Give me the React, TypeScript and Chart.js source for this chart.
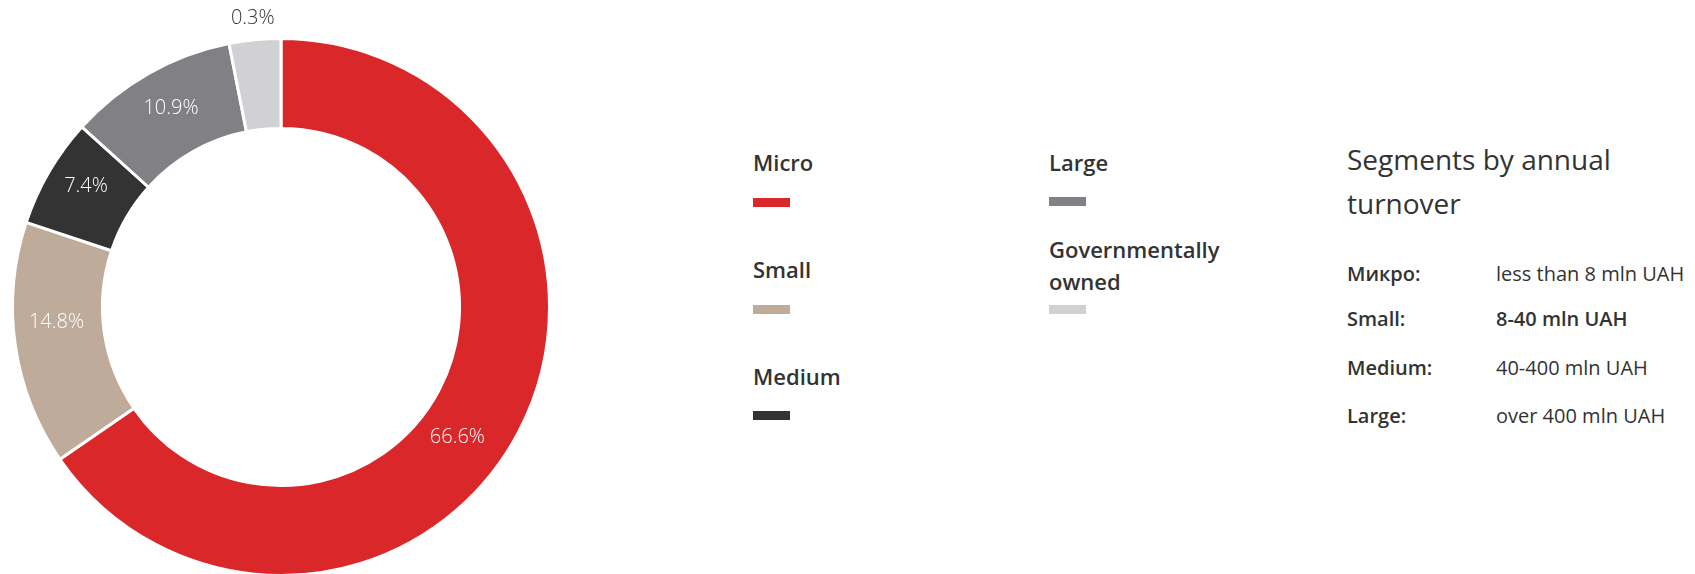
import React, { useEffect, useRef } from "react";
import { Chart, registerables } from "chart.js";

Chart.register(...registerables);

// ---- data ----
const segments = ["Micro", "Small", "Medium", "Large", "Governmentally owned"];
const sliceValues = [65.4, 14.7, 6.6, 10.2, 3.1];
const percentLabels = ["66.6%", "14.8%", "7.4%", "10.9%", "0.3%"];
const thresholdLabels = ["Микро:", "Small:", "Medium:", "Large:"];
const thresholdValues = ["less than 8 mln UAH", "8-40 mln UAH", "40-400 mln UAH", "over 400 mln UAH"];
const titleLines = ["Segments by annual", "turnover"];

// ---- styles ----
const colors = ["#d9272a", "#bfab9a", "#333333", "#818085", "#d1d1d3"];
const labelAngleShift = [8.8, 4.1, 1.6, 0.6, 0];
const labelRadialShift = [-4, 1.5, 6, 4, 0];
const rowBaselines = [282, 326.5, 376, 424];
const TEXT = "#333333";
const FONT = "'Open Sans', Lato, sans-serif";
// Open Sans vertical metrics (em units)
const ASC = 1.069;
const DESC = 0.293;

const labelPlugin = {
  id: "pctLabels",
  afterDatasetsDraw(chart: any) {
    const meta = chart.getDatasetMeta(0);
    const ctx = chart.ctx;
    ctx.save();
    ctx.font = "300 20px 'Open Sans'";
    ctx.textAlign = "center";
    ctx.textBaseline = "middle";
    meta.data.forEach((arc: any, i: number) => {
      const p = arc.getProps(["x", "y", "startAngle", "endAngle", "innerRadius", "outerRadius"], true);
      const outside = i === 4;
      const a = (p.startAngle + p.endAngle) / 2 + (labelAngleShift[i] * Math.PI) / 180;
      const r = outside ? p.outerRadius + 22 : (p.innerRadius + p.outerRadius) / 2 + labelRadialShift[i];
      ctx.fillStyle = outside ? TEXT : "#ffffff";
      ctx.fillText(percentLabels[i], p.x + r * Math.cos(a), p.y + r * Math.sin(a));
    });
    ctx.restore();
  },
};

function topFor(baseline: number, size: number, lh: number) {
  return baseline - ((lh - (ASC + DESC) * size) / 2 + ASC * size);
}

function Txt(props: { x: number; baseline: number; size: number; weight: number; children: any; lh?: number }) {
  const lh = props.lh ?? props.size;
  return (
    <div
      style={{
        position: "absolute",
        left: props.x,
        top: topFor(props.baseline, props.size, lh),
        fontFamily: FONT,
        fontSize: props.size,
        fontWeight: props.weight,
        lineHeight: lh + "px",
        color: TEXT,
        whiteSpace: "nowrap",
      }}
    >
      {props.children}
    </div>
  );
}

function Swatch(props: { x: number; y: number; color: string }) {
  return (
    <div style={{ position: "absolute", left: props.x, top: props.y, width: 37, height: 9, background: props.color }} />
  );
}

export default function App() {
  const ref = useRef<HTMLCanvasElement | null>(null);

  useEffect(() => {
    if (!ref.current) return;
    const chart = new Chart(ref.current, {
      type: "doughnut",
      data: {
        labels: segments,
        datasets: [
          {
            data: sliceValues,
            backgroundColor: colors,
            borderColor: "#ffffff",
            borderWidth: 3,
          },
        ],
      },
      options: {
        responsive: false,
        animation: false,
        cutout: "66.5%",
        layout: { padding: { left: 11, right: 11, top: 37, bottom: 37 } },
        plugins: { legend: { display: false }, tooltip: { enabled: false } },
      },
      plugins: [labelPlugin],
    });
    return () => chart.destroy();
  }, []);

  const col1 = 753;
  const col2 = 1049;
  return (
    <div style={{ position: "fixed", left: 0, top: 0, width: 1695, height: 574, overflow: "hidden", background: "#fff" }}>
      <canvas ref={ref} width={562} height={614} style={{ position: "absolute", left: 0, top: 0, width: 562, height: 614 }} />

      <Txt x={col1} baseline={171} size={22} weight={600}>{segments[0]}</Txt>
      <Swatch x={col1} y={198} color={colors[0]} />
      <Txt x={col1} baseline={278} size={22} weight={600}>{segments[1]}</Txt>
      <Swatch x={col1} y={305} color={colors[1]} />
      <Txt x={col1} baseline={385} size={22} weight={600}>{segments[2]}</Txt>
      <Swatch x={col1} y={411} color={colors[2]} />

      <Txt x={col2} baseline={171} size={22} weight={600}>{segments[3]}</Txt>
      <Swatch x={col2} y={197} color={colors[3]} />
      <div
        style={{
          position: "absolute",
          left: col2,
          top: topFor(257.3, 22, 32),
          width: 200,
          fontFamily: FONT,
          fontSize: 22,
          fontWeight: 600,
          lineHeight: "32px",
          color: TEXT,
        }}
      >
        Governmentally
        <br />
        owned
      </div>
      <Swatch x={col2} y={305} color={colors[4]} />

      <Txt x={1347} baseline={170} size={28} weight={400}>{titleLines[0]}</Txt>
      <Txt x={1347} baseline={214} size={28} weight={400}>{titleLines[1]}</Txt>

      {thresholdLabels.map((l, i) => (
        <React.Fragment key={l}>
          <Txt x={1347} baseline={rowBaselines[i]} size={20} weight={600}>{l}</Txt>
          <Txt x={1496} baseline={rowBaselines[i]} size={20} weight={i === 1 ? 600 : 400}>{thresholdValues[i]}</Txt>
        </React.Fragment>
      ))}
    </div>
  );
}
